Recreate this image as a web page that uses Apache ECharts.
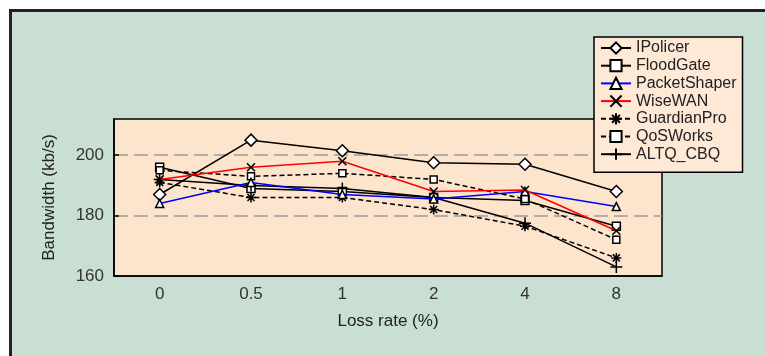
<!DOCTYPE html>
<html>
<head>
<meta charset="utf-8">
<script src="https://cdn.jsdelivr.net/npm/echarts@6/dist/echarts.min.js"></script>
<style>
  html, body { margin: 0; padding: 0; background: #fff; }
  #chart { width: 765px; height: 356px; }
</style>
</head>
<body>
<div id="chart"></div>
<script>
// loss rate categories
const lossRates = ['0', '0.5', '1', '2', '4', '8']

// bandwidth (kb/s) per scheduler
const iPolicer     = [187, 205, 201.5, 197.5, 197, 188]
const floodGate    = [196, 189, 188, 186, 185, 176.5]
const packetShaper = [184, 191, 187, 185.5, 188, 183]
const wiseWAN      = [192, 196, 198, 188, 188.5, 175]
const guardianPro  = [191, 186, 186, 182, 176.5, 166]
const qosWorks     = [195, 193, 194, 192, 185.5, 172]
const altqCbq      = [192, 190, 189, 186, 177.5, 163]

const font = 'Liberation Sans, Arial, sans-serif'

// stroke-only marker paths
const xMark = 'path://M0,0L10,10M10,0L0,10'
const plusMark = 'path://M5,0L5,10M0,5L10,5'
const starMark = 'path://M5,0L5,10M0,5L10,5M1.5,1.5L8.5,8.5M8.5,1.5L1.5,8.5'

function line(name, data, opt) {
    const color = opt.color || '#000'
    return {
        name: name,
        type: 'line',
        data: data,
        symbol: opt.symbol,
        symbolSize: opt.size,
        z: opt.z || 2,
        lineStyle: { color: color, width: 1.5, type: opt.dash ? [5, 3] : 'solid' },
        itemStyle: {
            color: opt.fill || 'transparent',
            borderColor: '#000',
            borderWidth: 1.5
        },
        animation: false
    }
}

const chart = echarts.init(document.getElementById('chart'))

const option = {
    backgroundColor: '#fff',
    animation: false,
    graphic: [{
        type: 'rect',
        z: -10,
        shape: { x: 10.5, y: 10.5, width: 800, height: 400 },
        style: { fill: '#c9dfd3', stroke: '#222', lineWidth: 3 }
    }],
    grid: {
        left: 114,
        top: 119,
        width: 548,
        height: 157,
        show: true,
        backgroundColor: '#fde4cc',
        borderColor: '#000',
        borderWidth: 1.5
    },
    legend: {
        orient: 'vertical',
        left: 594,
        top: 37,
        padding: [3, 6, 10, 6],
        itemWidth: 30,
        itemHeight: 14,
        itemGap: 1.7,
        itemTextGap: 3,
        backgroundColor: '#fde9d6',
        borderColor: '#000',
        borderWidth: 1.5,
        textStyle: { fontFamily: font, fontSize: 16, lineHeight: 16, color: '#222' },
        data: ['IPolicer', 'FloodGate', 'PacketShaper', 'WiseWAN', 'GuardianPro', 'QoSWorks', 'ALTQ_CBQ']
    },
    xAxis: {
        type: 'category',
        data: lossRates,
        boundaryGap: true,
        name: 'Loss rate (%)',
        nameLocation: 'middle',
        nameGap: 37,
        nameTextStyle: { fontFamily: font, fontSize: 17, color: '#222' },
        axisLine: { lineStyle: { color: '#000', width: 1.5 } },
        axisTick: { inside: true, length: 8, lineStyle: { color: '#000', width: 1.5 } },
        axisLabel: { fontFamily: font, fontSize: 17, color: '#333', margin: 10 },
        splitLine: { show: false }
    },
    yAxis: {
        type: 'value',
        min: 160,
        max: 212,
        interval: 20,
        name: 'Bandwidth (kb/s)',
        nameLocation: 'middle',
        nameGap: 56,
        nameTextStyle: { fontFamily: font, fontSize: 17, color: '#222' },
        axisLine: { show: true, lineStyle: { color: '#000', width: 1.5 } },
        axisTick: { show: true, inside: true, length: 5, lineStyle: { color: '#000', width: 1.5 } },
        axisLabel: { fontFamily: font, fontSize: 17, color: '#333', margin: 10, showMaxLabel: false },
        splitLine: {
            show: true,
            showMinLine: false,
            showMaxLine: false,
            lineStyle: { color: '#9a9a9a', width: 1.5, type: [14, 6] }
        }
    },
    series: [
        line('IPolicer', iPolicer, { symbol: 'diamond', size: 12, fill: '#fff' }),
        line('FloodGate', floodGate, { symbol: 'rect', size: 8, fill: '#fff' }),
        line('PacketShaper', packetShaper, { symbol: 'triangle', size: 8, fill: '#fff', color: '#0000ff', z: 4 }),
        line('WiseWAN', wiseWAN, { symbol: xMark, size: 8, color: '#ff0000', z: 5 }),
        line('GuardianPro', guardianPro, { symbol: starMark, size: 10, dash: true }),
        line('QoSWorks', qosWorks, { symbol: 'rect', size: 7, fill: '#fff', dash: true }),
        line('ALTQ_CBQ', altqCbq, { symbol: plusMark, size: 12 })
    ]
}

chart.setOption(option)
</script>
</body>
</html>
